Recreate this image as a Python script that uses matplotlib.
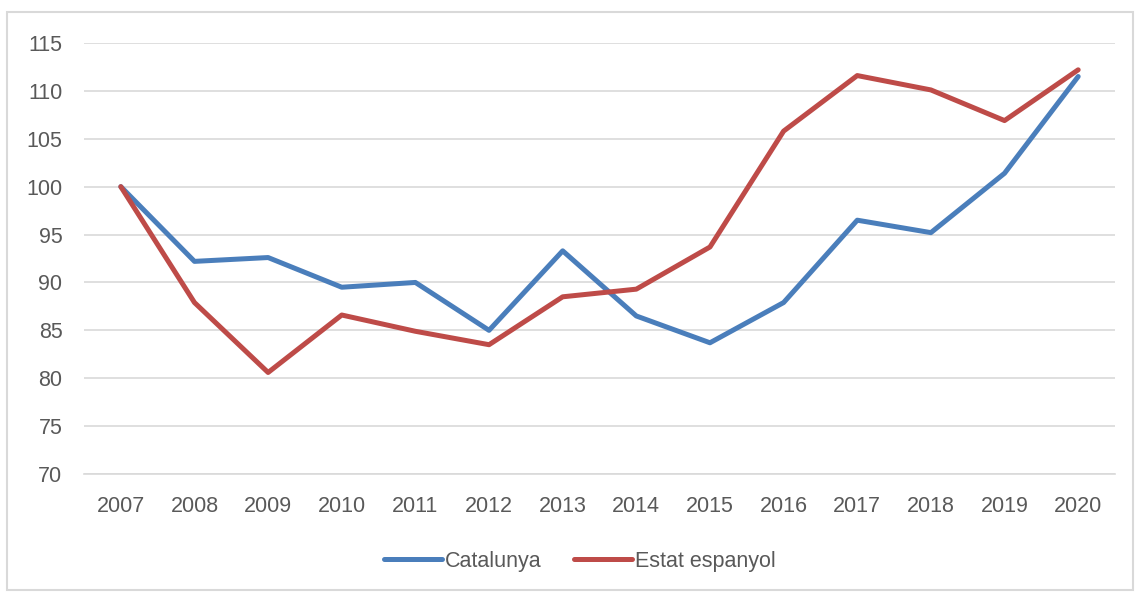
import matplotlib
matplotlib.use("Agg")
import matplotlib.pyplot as plt
from matplotlib.patches import Rectangle

years = ['2007', '2008', '2009', '2010', '2011', '2012', '2013',
         '2014', '2015', '2016', '2017', '2018', '2019', '2020']
catalunya = [100, 92.2, 92.6, 89.5, 90.0, 85.0, 93.3,
             86.5, 83.7, 87.9, 96.5, 95.2, 101.4, 111.5]
espanya = [100, 87.9, 80.6, 86.6, 84.9, 83.5, 88.5,
           89.3, 93.7, 105.8, 111.6, 110.1, 106.9, 112.2]
y_ticks = [70, 75, 80, 85, 90, 95, 100, 105, 110, 115]

plt.rcParams['font.family'] = ['Liberation Sans', 'DejaVu Sans']

fig = plt.figure(figsize=(11.36, 5.92), dpi=100)
W, H = 1136, 592
# outer chart border
fig.patches.append(Rectangle((7 / W, 2 / H), 1126 / W, (H - 14) / H,
                             transform=fig.transFigure, fill=False,
                             edgecolor='#d9d9d9', linewidth=1.5))

ax = fig.add_axes([84 / W, 1 - 474 / H, (1115 - 84) / W, (474 - 43) / H])
x = list(range(len(years)))
ax.plot(x, catalunya, color='#4a7ebb', linewidth=3.6, label='Catalunya',
        solid_capstyle='round', solid_joinstyle='round')
ax.plot(x, espanya, color='#be4b48', linewidth=3.6, label='Estat espanyol',
        solid_capstyle='round', solid_joinstyle='round')

ax.set_xlim(-0.5, len(years) - 0.5)
ax.set_ylim(70, 115)
ax.set_yticks(y_ticks)
ax.set_xticks(x)
ax.set_xticklabels(years)
ax.grid(axis='y', color='#d9d9d9', linewidth=1.2)
ax.set_axisbelow(True)
for s in ['top', 'right', 'left']:
    ax.spines[s].set_visible(False)
ax.spines['bottom'].set_color('#d9d9d9')
ax.spines['bottom'].set_linewidth(1.2)
ax.tick_params(axis='both', length=0, labelsize=15.5, labelcolor='#595959')
ax.tick_params(axis='y', pad=15.5)
ax.tick_params(axis='x', pad=16)

leg = fig.legend(loc='center', bbox_to_anchor=(580 / W, 1 - 561 / H), ncol=2,
                 frameon=False, fontsize=15.5, handlelength=2.7, handletextpad=0.15,
                 columnspacing=1.5)
for t in leg.get_texts():
    t.set_color('#595959')

fig.savefig('out.png', dpi=100)
